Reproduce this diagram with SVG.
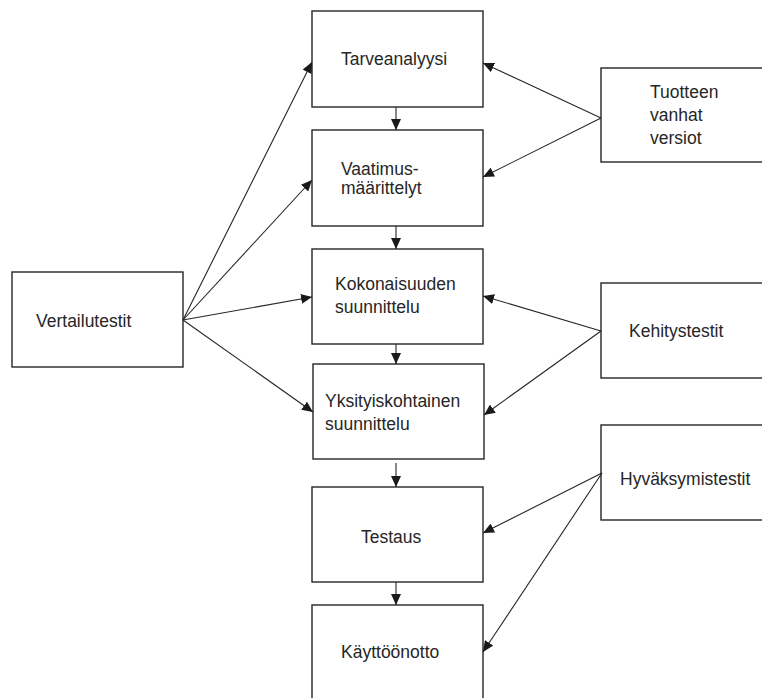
<svg xmlns="http://www.w3.org/2000/svg" width="762" height="698" viewBox="0 0 762 698">
  <style>
    .box { fill: #ffffff; stroke: #262626; stroke-width: 1.4; }
    .label { font-family: "Liberation Sans", Arial, sans-serif; font-size: 17.5px; fill: #262626; }
    .edge { stroke: #262626; stroke-width: 1.1; fill: none; marker-end: url(#arrow); }
  </style>
  <defs>
    <marker id="arrow" markerUnits="userSpaceOnUse" markerWidth="12" markerHeight="10" refX="11" refY="5" orient="auto">
      <path d="M0,0 L11,5 L0,10 Z" fill="#1a1a1a"/>
    </marker>
  </defs>
  <rect width="762" height="698" fill="#ffffff"/>

  <!-- process chain -->
  <g id="tarveanalyysi">
    <rect class="box" x="312" y="11" width="171" height="96"/>
    <text class="label" x="341" y="65">Tarveanalyysi</text>
  </g>
  <g id="vaatimusmaarittelyt">
    <rect class="box" x="312" y="130" width="171" height="96"/>
    <text class="label" x="341" y="175">Vaatimus-</text>
    <text class="label" x="341" y="194">määrittelyt</text>
  </g>
  <g id="kokonaisuuden-suunnittelu">
    <rect class="box" x="312" y="249" width="171" height="95"/>
    <text class="label" x="335" y="290">Kokonaisuuden</text>
    <text class="label" x="335" y="313">suunnittelu</text>
  </g>
  <g id="yksityiskohtainen-suunnittelu">
    <rect class="box" x="313" y="364" width="171" height="95"/>
    <text class="label" x="325" y="407">Yksityiskohtainen</text>
    <text class="label" x="325" y="430">suunnittelu</text>
  </g>
  <g id="testaus">
    <rect class="box" x="312" y="487" width="171" height="95"/>
    <text class="label" x="361" y="543">Testaus</text>
  </g>
  <g id="kayttoonotto">
    <rect class="box" x="312" y="605" width="171" height="100"/>
    <text class="label" x="341" y="658">Käyttöönotto</text>
  </g>

  <!-- test sources -->
  <g id="vertailutestit">
    <rect class="box" x="12" y="272" width="171" height="95"/>
    <text class="label" x="36" y="327">Vertailutestit</text>
  </g>
  <g id="tuotteen-vanhat-versiot">
    <rect class="box" x="601" y="68" width="180" height="94"/>
    <text class="label" x="650" y="98">Tuotteen</text>
    <text class="label" x="650" y="121">vanhat</text>
    <text class="label" x="650" y="144">versiot</text>
  </g>
  <g id="kehitystestit">
    <rect class="box" x="601" y="283" width="180" height="95"/>
    <text class="label" x="629" y="337">Kehitystestit</text>
  </g>
  <g id="hyvaksymistestit">
    <rect class="box" x="601" y="425" width="180" height="95"/>
    <text class="label" x="620" y="485">Hyväksymistestit</text>
  </g>

  <g id="connectors">
    <!-- vertical flow -->
    <line class="edge" x1="396" y1="107" x2="396" y2="130"/>
    <line class="edge" x1="396" y1="226" x2="396" y2="249"/>
    <line class="edge" x1="396" y1="344" x2="396" y2="364"/>
    <line class="edge" x1="396" y1="463" x2="396" y2="487"/>
    <line class="edge" x1="396" y1="582" x2="396" y2="605"/>

    <!-- Vertailutestit fan-out -->
    <line class="edge" x1="183" y1="320" x2="312" y2="62"/>
    <line class="edge" x1="183" y1="320" x2="312" y2="180"/>
    <line class="edge" x1="183" y1="320" x2="312" y2="297"/>
    <line class="edge" x1="183" y1="320" x2="313" y2="412"/>

    <!-- Tuotteen vanhat versiot -->
    <line class="edge" x1="601" y1="118" x2="483" y2="63"/>
    <line class="edge" x1="601" y1="118" x2="483" y2="177"/>

    <!-- Kehitystestit -->
    <line class="edge" x1="601" y1="331" x2="483" y2="296"/>
    <line class="edge" x1="601" y1="331" x2="484" y2="415"/>

    <!-- Hyväksymistestit -->
    <line class="edge" x1="602" y1="473" x2="483" y2="533"/>
    <line class="edge" x1="602" y1="473" x2="483" y2="652"/>
  </g>
</svg>
